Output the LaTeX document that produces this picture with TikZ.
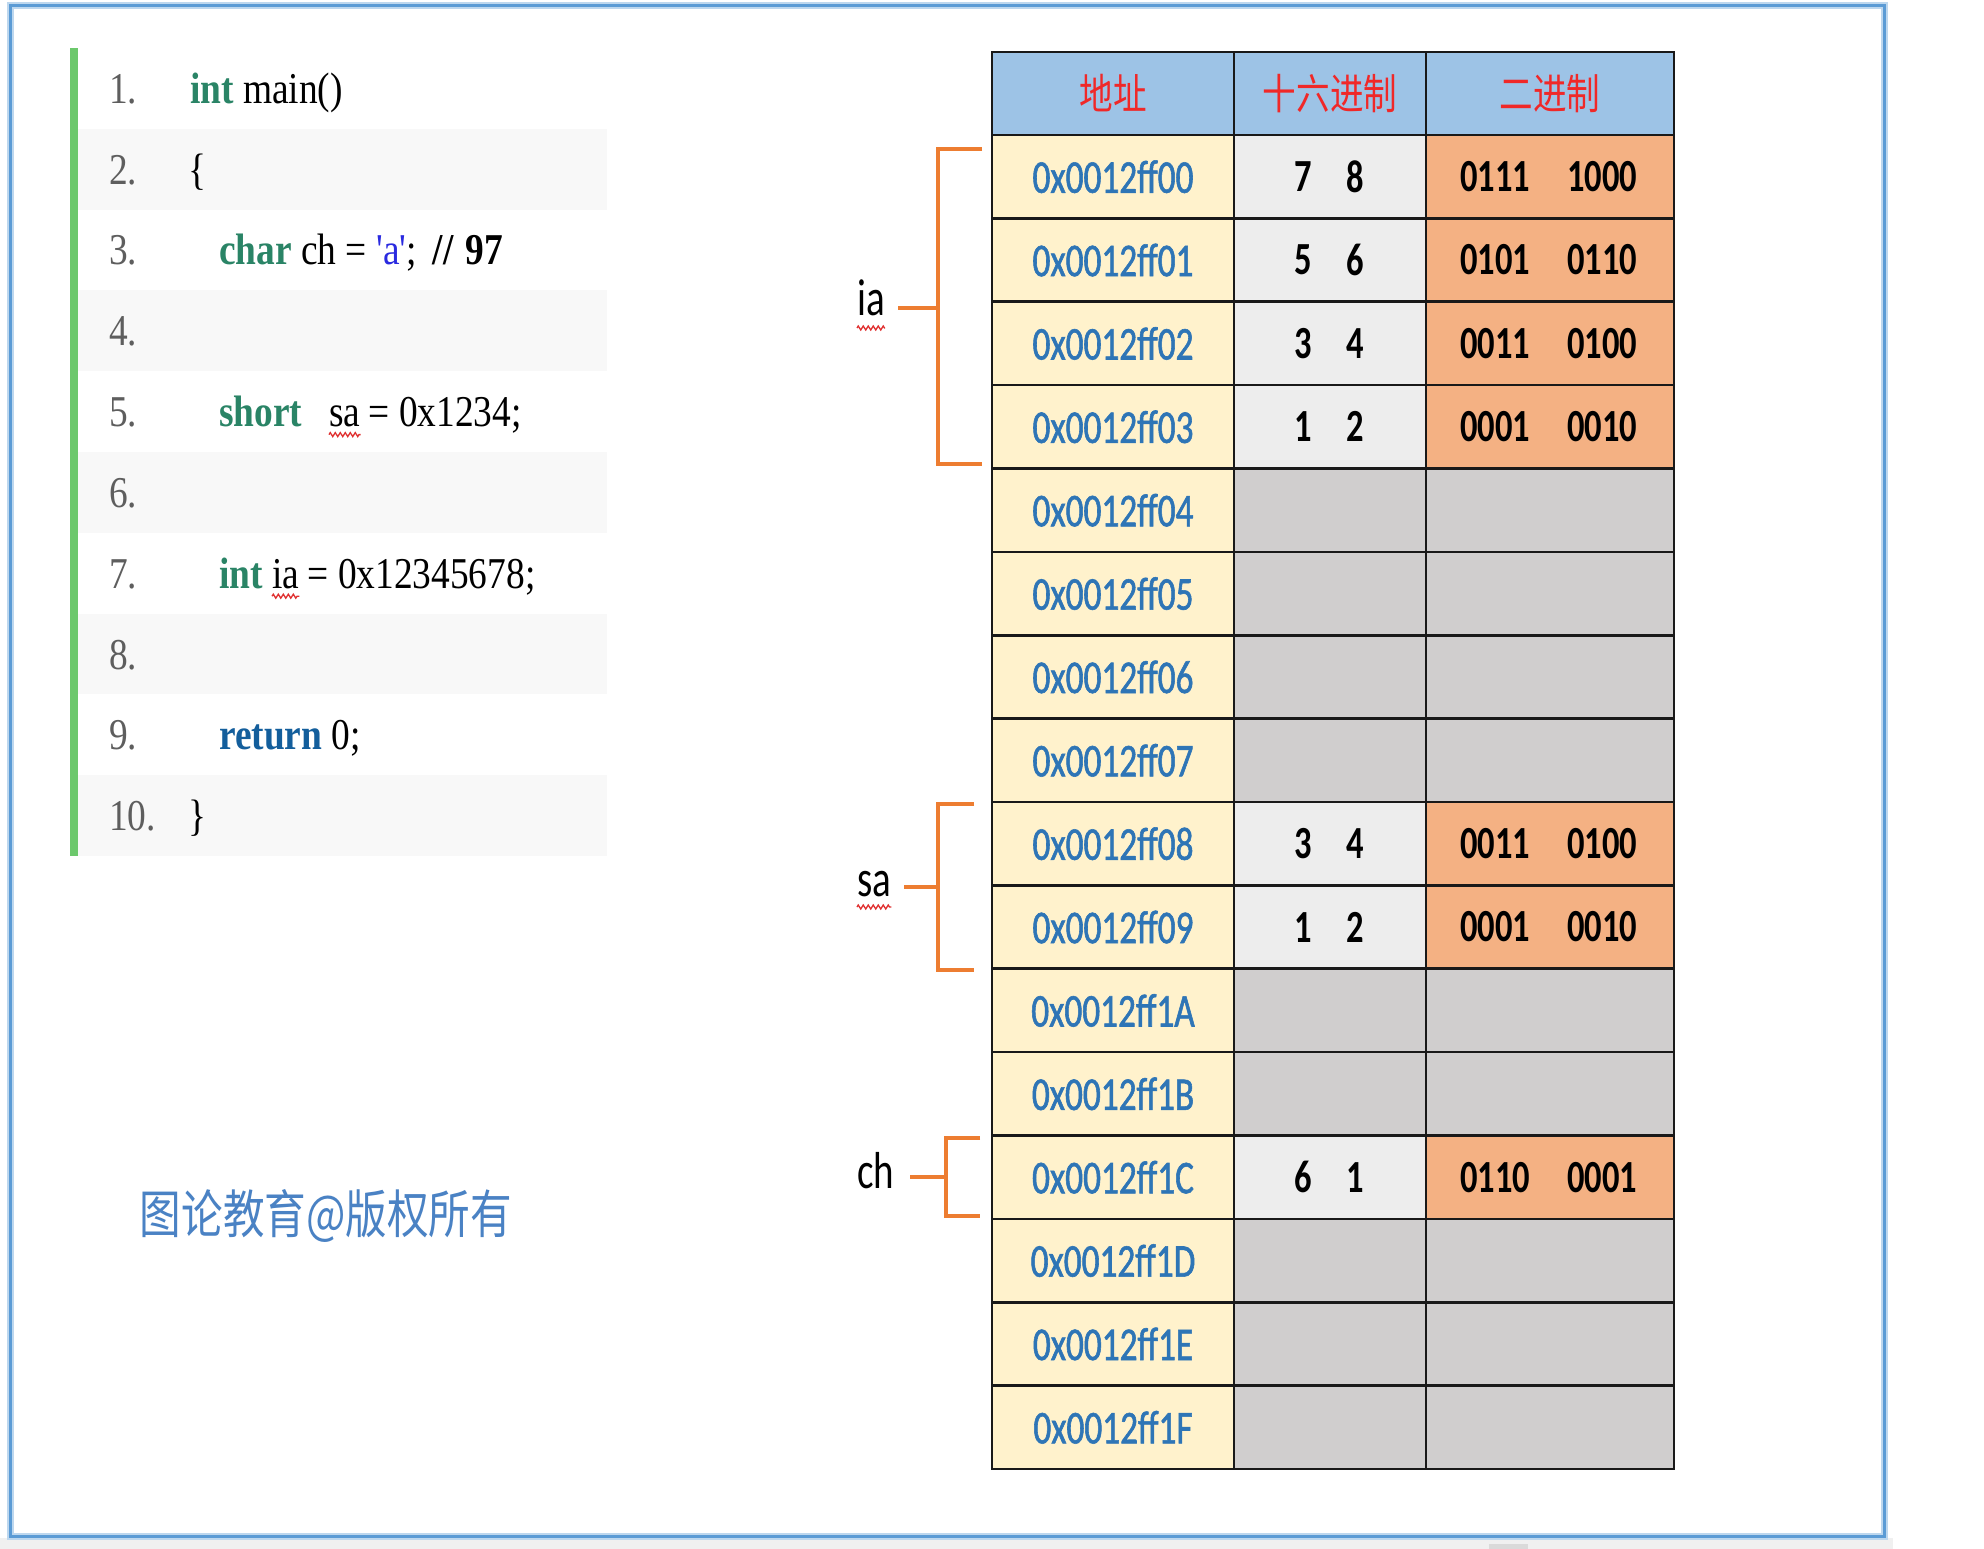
\documentclass[tikz,border=0pt]{standalone}
\usepackage{fontspec}
\usetikzlibrary{decorations.pathmorphing}
\newfontfamily\codefont[FakeStretch=0.85]{Liberation Serif}
\newfontfamily\tabfont[FakeStretch=0.75]{Carlito}
\newfontfamily\addrfont[FakeStretch=0.75,FakeBold=1.2]{Carlito}
\newfontfamily\cjkfont[FakeStretch=0.8]{Noto Sans CJK SC}
\definecolor{frameblue}{HTML}{5B9BD5}
\definecolor{framehalo}{HTML}{BDD7EE}
\definecolor{stripgray}{HTML}{F0F0F0}
\definecolor{thumbgray}{HTML}{DADADA}
\definecolor{codebar}{HTML}{6CC86C}
\definecolor{rowgray}{HTML}{F8F8F8}
\definecolor{lngray}{HTML}{5E5E5E}
\definecolor{kwgreen}{HTML}{2A8466}
\definecolor{kwblue}{HTML}{135E9C}
\definecolor{strblue}{HTML}{2A2AE0}
\definecolor{hdrblue}{HTML}{9DC3E6}
\definecolor{hdrred}{HTML}{F02828}
\definecolor{addrfill}{HTML}{FFF2CC}
\definecolor{addrtext}{HTML}{2E75B6}
\definecolor{hexfill}{HTML}{EDEDED}
\definecolor{emptyfill}{HTML}{D0CECE}
\definecolor{binfill}{HTML}{F4B183}
\definecolor{brkorange}{HTML}{ED7D31}
\definecolor{wmblue}{HTML}{4A82C4}
\definecolor{sqred}{HTML}{E03030}
\newcommand\kw[1]{{\bfseries\color{kwgreen}#1}}
\newcommand\kwb[1]{{\bfseries\color{kwblue}#1}}
\begin{document}
\begin{tikzpicture}[x=1pt,y=-1pt,
  lnum/.style={anchor=base west,inner sep=0,text=lngray,font=\codefont\fontsize{44}{52}\selectfont},
  code/.style={anchor=base west,inner sep=0,text=black,font=\codefont\fontsize{44}{52}\selectfont},
  hdr/.style={fill=hdrblue,inner sep=0,minimum height=83,text=hdrred,font=\cjkfont\fontsize{42}{48}\selectfont},
  addr/.style={fill=addrfill,inner sep=0,minimum width=242,minimum height=83.375,text=addrtext,font=\addrfont\fontsize{47}{52}\selectfont},
  emptycell/.style={fill=emptyfill,inner sep=0,minimum height=83.375},
  val/.style={inner sep=0,text=black,font=\tabfont\bfseries\fontsize{46}{52}\selectfont},
  grid/.style={draw=black!90,line width=2.6},
  brk/.style={draw=brkorange,line width=4.5},
  lbl/.style={anchor=base west,inner sep=0,text=black,font=\tabfont\fontsize{52}{60}\selectfont},
  squig/.style={draw=sqred,line width=1.3,decorate,decoration={zigzag,segment length=5,amplitude=2}},
  wm/.style={inner sep=0,text=wmblue,font=\cjkfont\fontsize{52}{60}\selectfont}]
\useasboundingbox (0,0) rectangle (1984,1549);
\fill[white] (0,0) rectangle (1984,1549);
\fill[stripgray] (0,1538) rectangle (1893,1549);
\fill[thumbgray] (1489,1544) rectangle (1528,1549);
\draw[framehalo,line width=7] (10,6) rectangle (1884,1536);
\draw[frameblue,line width=3] (10,6) rectangle (1884,1536);
% ---------- code panel
\fill[codebar] (70,48) rectangle (78,856);
\foreach \k in {2,4,6,8,10}
  \fill[rowgray] (78,{48+80.8*(\k-1)}) rectangle (607,{48+80.8*\k});
\foreach \k in {1,...,10}
  \node[lnum] (ln\k) at (109,{48+80.8*(\k-0.5)+15}) {\k.};
\node[code] (c1) at (190,103.4) {\kw{int} main()};
\node[code] (c2) at (188,184.2) {\{};
\node[code] (c3) at (219,265) {\kw{char} ch = {\color{strblue}'a'};\hspace{16pt}{\bfseries //\hspace{12pt}97}};
\node[code] (c5a) at (219,426.6) {\kw{short}};
\node[code] (c5b) at (329,426.6) {sa};
\node[code] (c5c) at ([xshift=8]c5b.base east) {= 0x1234;};
\node[code] (c7a) at (219,588.2) {\kw{int}};
\node[code] (c7b) at ([xshift=9]c7a.base east) {ia};
\node[code] (c7c) at ([xshift=8]c7b.base east) {= 0x12345678;};
\node[code] (c9) at (219,749.8) {\kwb{return} 0;};
\node[code] (c10) at (188,830.6) {\}};
\draw[squig] ([yshift=-8]c5b.base west) -- ([yshift=-8]c5b.base east);
\draw[squig] ([yshift=-8]c7b.base west) -- ([yshift=-8]c7b.base east);
% ---------- table
\node[hdr,minimum width=242] (h1) at (1113,93.5) {地址};
\node[hdr,minimum width=192] (h2) at (1330,93.5) {十六进制};
\node[hdr,minimum width=248] (h3) at (1550,93.5) {二进制};
\foreach \ad [count=\i from 0] in {ff00,ff01,ff02,ff03,ff04,ff05,ff06,ff07,ff08,ff09,ff1A,ff1B,ff1C,ff1D,ff1E,ff1F}{
  \node[addr] (a\i) at (1113,{135+83.375*(\i+0.5)}) {0x0012\ad};
  \node[emptycell,minimum width=192] (x\i) at (1330,{135+83.375*(\i+0.5)}) {};
  \node[emptycell,minimum width=248] (b\i) at (1550,{135+83.375*(\i+0.5)}) {};
}
\foreach \i/\p/\q/\r/\s in {0/7/8/0111/1000,1/5/6/0101/0110,2/3/4/0011/0100,3/1/2/0001/0010,8/3/4/0011/0100,9/1/2/0001/0010,12/6/1/0110/0001}{
  \fill[hexfill] (x\i.north west) rectangle (x\i.south east);
  \fill[binfill] (b\i.north west) rectangle (b\i.south east);
  \node[val] (xp\i) at ([xshift=-27]x\i.center) {\p};
  \node[val] (xq\i) at ([xshift=25]x\i.center) {\q};
  \node[val] (br\i) at ([xshift=-55]b\i.center) {\r};
  \node[val] (bs\i) at ([xshift=52]b\i.center) {\s};
}
\draw[grid] (992,52) rectangle (1674,1469);
\foreach \x in {1234,1426} \draw[grid] (\x,52) -- (\x,1469);
\foreach \i in {0,...,15} \draw[grid] (992,{135+83.375*\i}) -- (1674,{135+83.375*\i});
% ---------- variable labels and brackets
\node[lbl] (lia) at (857,315) {ia};
\node[lbl] (lsa) at (857,896) {sa};
\node[lbl] (lch) at (857,1188) {ch};
\draw[squig] ([yshift=-13]lia.base west) -- ([yshift=-13]lia.base east);
\draw[squig] ([yshift=-11]lsa.base west) -- ([yshift=-11]lsa.base east);
\coordinate (iaT) at (982,149); \coordinate (iaB) at (982,464); \coordinate (iaM) at (938,308);
\coordinate (saT) at (974,804); \coordinate (saB) at (974,970); \coordinate (saM) at (938,887);
\coordinate (chT) at (980,1138); \coordinate (chB) at (980,1216); \coordinate (chM) at (946,1177);
\draw[brk] (iaT) -- (iaT -| iaM) -- (iaB -| iaM) -- (iaB);
\draw[brk] (iaM) -- ([xshift=13]lia.east |- iaM);
\draw[brk] (saT) -- (saT -| saM) -- (saB -| saM) -- (saB);
\draw[brk] (saM) -- ([xshift=13]lsa.east |- saM);
\draw[brk] (chT) -- (chT -| chM) -- (chB -| chM) -- (chB);
\draw[brk] (chM) -- ([xshift=16]lch.east |- chM);
% ---------- watermark
\node[wm] (wm) at (326,1216) {图论教育@版权所有};
\end{tikzpicture}
\end{document}
